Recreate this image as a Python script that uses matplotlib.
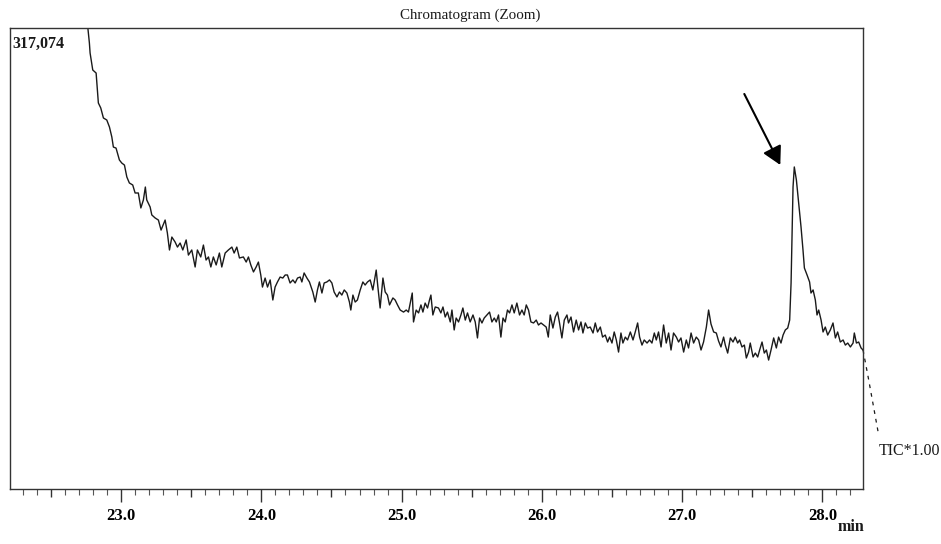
import numpy as np
import matplotlib
matplotlib.use("Agg")
import matplotlib.pyplot as plt
from matplotlib.ticker import MultipleLocator, FuncFormatter
from matplotlib.transforms import offset_copy

# full scale of the zoom window (counts) and retention time window (min)
full_scale = 317074
t_range = (22.208, 28.292)

# TIC trace, retention time (min) and intensity (x1000 counts)
times = [
    22.750, 22.774, 22.779, 22.798, 22.822, 22.838, 22.855, 22.874, 22.898, 22.917,
    22.934, 22.945, 22.964, 22.988, 23.005, 23.024, 23.041, 23.059, 23.083, 23.100,
    23.123, 23.141, 23.159, 23.173, 23.183, 23.207, 23.219, 23.243, 23.266, 23.285,
    23.314, 23.330, 23.345, 23.362, 23.385, 23.402, 23.421, 23.440, 23.464, 23.480,
    23.504, 23.528, 23.544, 23.568, 23.587, 23.606, 23.623, 23.640, 23.658, 23.678,
    23.701, 23.718, 23.742, 23.765, 23.790, 23.806, 23.825, 23.844, 23.872, 23.892,
    23.908, 23.925, 23.944, 23.963, 23.979, 23.996, 24.008, 24.027, 24.044, 24.063,
    24.082, 24.098, 24.115, 24.134, 24.153, 24.170, 24.186, 24.205, 24.225, 24.241,
    24.258, 24.277, 24.289, 24.305, 24.325, 24.343, 24.367, 24.384, 24.400, 24.414,
    24.432, 24.448, 24.467, 24.486, 24.503, 24.519, 24.539, 24.557, 24.574, 24.591,
    24.610, 24.628, 24.638, 24.653, 24.669, 24.685, 24.705, 24.724, 24.740, 24.757,
    24.776, 24.795, 24.819, 24.831, 24.847, 24.867, 24.883, 24.899, 24.914, 24.938,
    24.954, 24.971, 24.990, 25.014, 25.033, 25.049, 25.066, 25.076, 25.085, 25.104,
    25.121, 25.138, 25.152, 25.168, 25.185, 25.199, 25.209, 25.223, 25.240, 25.263,
    25.280, 25.295, 25.311, 25.327, 25.347, 25.359, 25.375, 25.389, 25.406, 25.423,
    25.437, 25.454, 25.470, 25.489, 25.509, 25.525, 25.541, 25.556, 25.573, 25.589,
    25.608, 25.627, 25.644, 25.661, 25.675, 25.691, 25.708, 25.723, 25.739, 25.755,
    25.770, 25.787, 25.803, 25.822, 25.841, 25.858, 25.874, 25.889, 25.905, 25.922,
    25.941, 25.960, 25.976, 25.994, 26.012, 26.031, 26.046, 26.060, 26.079, 26.096,
    26.112, 26.126, 26.143, 26.160, 26.179, 26.190, 26.208, 26.226, 26.245, 26.262,
    26.279, 26.293, 26.310, 26.326, 26.345, 26.365, 26.381, 26.397, 26.417, 26.433,
    26.452, 26.469, 26.483, 26.500, 26.516, 26.531, 26.547, 26.564, 26.578, 26.595,
    26.611, 26.631, 26.650, 26.666, 26.683, 26.697, 26.714, 26.730, 26.750, 26.768,
    26.785, 26.802, 26.816, 26.832, 26.850, 26.868, 26.887, 26.904, 26.921, 26.939,
    26.959, 26.975, 26.992, 27.011, 27.030, 27.046, 27.064, 27.082, 27.101, 27.118,
    27.135, 27.153, 27.173, 27.189, 27.206, 27.225, 27.244, 27.260, 27.277, 27.296,
    27.308, 27.325, 27.344, 27.363, 27.379, 27.396, 27.410, 27.427, 27.444, 27.458,
    27.474, 27.486, 27.506, 27.522, 27.539, 27.553, 27.570, 27.586, 27.601, 27.617,
    27.634, 27.653, 27.672, 27.688, 27.705, 27.720, 27.736, 27.753, 27.767, 27.777,
    27.784, 27.791, 27.800, 27.815, 27.831, 27.848, 27.862, 27.872, 27.891, 27.909,
    27.919, 27.934, 27.950, 27.962, 27.974, 27.991, 28.005, 28.021, 28.038, 28.057,
    28.076, 28.093, 28.109, 28.128, 28.148, 28.164, 28.181, 28.200, 28.219, 28.228,
    28.243, 28.259, 28.276, 28.290,
]
intensity = [
    329.5, 306.8, 299.9, 288.2, 286.1, 265.5, 262.1, 255.2, 253.8, 249.0,
    242.1, 235.2, 234.5, 226.3, 224.2, 222.8, 214.6, 210.5, 209.1, 203.6,
    203.6, 193.3, 198.8, 207.7, 198.8, 194.0, 188.5, 186.4, 185.0, 178.1,
    185.0, 176.1, 164.4, 173.3, 169.9, 166.4, 169.2, 164.4, 171.3, 160.9,
    164.4, 152.7, 164.4, 159.6, 167.8, 157.5, 159.6, 152.7, 159.6, 154.1,
    162.3, 152.7, 162.3, 164.4, 166.4, 162.3, 166.4, 158.9, 159.6, 156.1,
    159.6, 154.1, 149.3, 152.7, 156.1, 147.2, 138.9, 145.1, 138.9, 143.8,
    130.0, 138.9, 142.4, 145.8, 145.1, 147.2, 147.2, 141.7, 143.8, 141.7,
    145.1, 145.8, 142.4, 148.6, 145.1, 142.4, 135.5, 128.6, 136.9, 142.4,
    134.8, 141.7, 142.4, 143.8, 141.7, 135.5, 132.1, 135.5, 133.4, 136.9,
    134.8, 128.6, 123.1, 133.4, 128.6, 130.0, 136.9, 142.4, 140.3, 142.4,
    143.8, 136.9, 150.6, 138.9, 124.5, 145.1, 135.5, 133.4, 126.6, 131.4,
    130.0, 126.6, 123.1, 121.7, 123.1, 121.7, 130.0, 134.8, 114.9, 123.1,
    121.1, 126.6, 121.7, 127.9, 124.5, 130.0, 133.4, 119.7, 125.2, 124.5,
    121.1, 125.2, 118.3, 121.7, 114.9, 123.1, 109.4, 117.6, 114.9, 119.7,
    124.5, 116.2, 121.1, 114.9, 119.7, 114.9, 103.9, 117.6, 114.2, 117.6,
    119.7, 121.7, 114.9, 117.6, 114.9, 119.7, 104.5, 117.6, 114.9, 123.1,
    121.1, 126.6, 121.1, 127.9, 119.7, 123.1, 119.7, 126.6, 123.1, 114.9,
    114.2, 116.2, 112.8, 114.2, 112.8, 111.4, 104.5, 119.7, 110.7, 118.3,
    121.7, 114.2, 103.9, 116.2, 119.7, 114.2, 118.3, 108.0, 116.2, 109.4,
    114.9, 107.3, 114.2, 110.7, 111.4, 107.3, 114.2, 108.0, 111.4, 104.5,
    105.9, 101.1, 104.5, 100.4, 108.0, 102.5, 94.2, 107.3, 100.4, 104.5,
    102.5, 108.0, 102.5, 108.0, 114.2, 104.5, 99.0, 102.5, 100.4, 102.5,
    100.4, 107.3, 102.5, 108.0, 97.7, 112.8, 100.4, 107.3, 95.6, 107.3,
    104.5, 101.1, 103.9, 94.2, 102.5, 97.0, 107.3, 100.4, 104.5, 102.5,
    95.6, 101.1, 111.4, 123.1, 113.5, 108.0, 107.3, 101.8, 97.7, 104.5,
    99.0, 93.5, 103.9, 101.1, 104.5, 100.4, 102.5, 97.7, 99.0, 90.1,
    94.2, 100.4, 90.8, 93.5, 90.8, 95.6, 101.1, 93.5, 95.6, 88.7,
    95.6, 103.9, 97.0, 104.5, 100.4, 105.9, 109.4, 110.7, 116.2, 141.7,
    176.1, 207.7, 221.5, 212.5, 196.7, 180.2, 164.4, 152.0, 147.2, 142.4,
    134.8, 136.9, 130.0, 119.7, 123.1, 116.2, 108.0, 111.4, 105.9, 109.4,
    114.2, 103.9, 108.0, 101.1, 102.5, 99.0, 100.4, 97.7, 100.4, 107.3,
    100.4, 101.1, 97.0, 95.6,
]
# trace running on past the right edge of the window
tail_times = [28.290, 28.328, 28.399]
tail_intensity = [95.6, 76.3, 38.5]

serif = ["Liberation Serif", "DejaVu Serif"]
ink = "#1a1a1a"

fig = plt.figure(figsize=(9.41, 5.44), dpi=100)
ax = fig.add_axes([0.01063, 0.1011, 0.9068, 0.8474])

ax.plot(times, intensity, color=ink, linewidth=1.0)
ax.plot(tail_times, tail_intensity, color=ink, linewidth=0.9,
        linestyle=(0, (3, 4)), clip_on=False)

ax.set_xlim(*t_range)
ax.set_ylim(0, full_scale / 1000)

for side in ["left", "right", "top", "bottom"]:
    ax.spines[side].set_color("#333333")
    ax.spines[side].set_linewidth(1.0)
ax.set_yticks([])

ax.xaxis.set_major_locator(MultipleLocator(0.5))
ax.xaxis.set_minor_locator(MultipleLocator(0.1))
ax.xaxis.set_major_formatter(
    FuncFormatter(lambda v, pos: f"{v:.1f}" if abs(v - round(v)) < 1e-6 else ""))
ax.tick_params(axis="x", which="major", direction="out", length=9, width=1,
               color="#333333", pad=5)
ax.tick_params(axis="x", which="minor", direction="out", length=4, width=0.8,
               color="#555555")
for lab in ax.get_xticklabels():
    lab.set_fontfamily(serif)
    lab.set_fontsize(12)
    lab.set_fontweight("bold")
# half-minute ticks are shorter than the whole-minute ones
for tick in ax.xaxis.get_major_ticks():
    if abs(tick.get_loc() - round(tick.get_loc())) > 1e-6:
        tick.tick1line.set_markersize(6)

ax.text(0.539, 1.028, "Chromatogram (Zoom)", transform=ax.transAxes,
        ha="center", va="center", fontsize=10.8, family=serif, color=ink)
ax.text(0.003, 0.965, f"{full_scale:,}", transform=ax.transAxes,
        ha="left", va="center", fontsize=11.5, fontweight="bold", family=serif,
        color=ink)
ax.text(1.0176, 0.0824, "TIC*1.00", transform=ax.transAxes, ha="left",
        va="center", fontsize=11.5, family=serif, color=ink, clip_on=False)
ax.text(0.985, -0.082, "min", transform=ax.transAxes, ha="center",
        va="center", fontsize=11.5, fontweight="bold", family=serif, color=ink)

# arrow marking the peak at ~27.8 min
i_peak = int(np.argmax(np.where(np.array(times) > 27.0, intensity, 0)))
tip = offset_copy(ax.transData, fig=fig, x=-14, y=2, units="dots")
ax.annotate("", xy=(times[i_peak], intensity[i_peak]), xycoords=tip,
            xytext=(-36, 71), textcoords="offset pixels",
            arrowprops=dict(arrowstyle="-|>,head_length=0.55,head_width=0.3",
                            mutation_scale=20, color="black", linewidth=1.5,
                            shrinkA=0, shrinkB=0))

fig.savefig("out.png", dpi=100, facecolor="white")
